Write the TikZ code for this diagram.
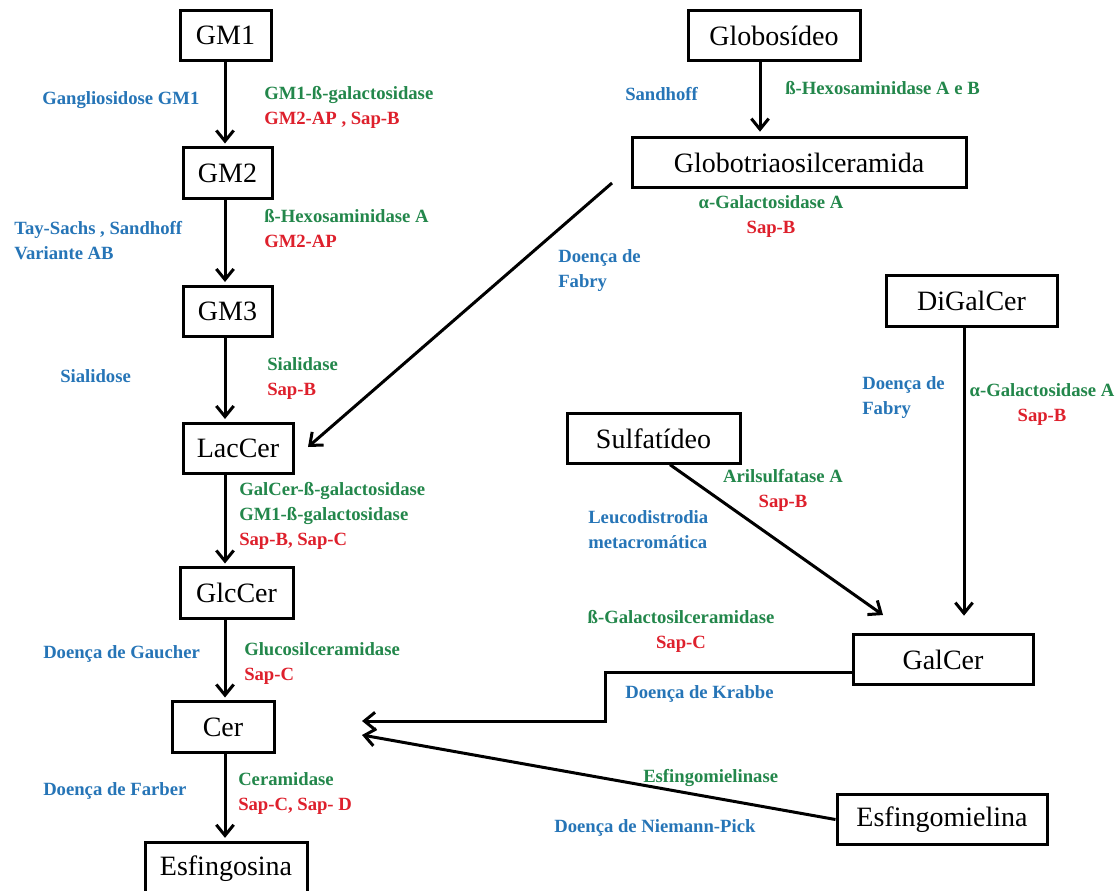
\documentclass[tikz,border=0pt]{standalone}
\usepackage{fontspec}
\setmainfont{Liberation Serif}
\usetikzlibrary{arrows.meta,calc}
\definecolor{dblue}{RGB}{38,117,183}
\definecolor{dgreen}{RGB}{35,135,75}
\definecolor{dred}{RGB}{222,32,44}
\begin{document}
\begin{tikzpicture}[x=0.75pt,y=-0.75pt,
 box/.style={draw, line width=2.25pt, inner sep=0pt, minimum height=38pt, font=\fontsize{21}{25}\selectfont},
 arr/.style={line width=2.25pt, -{Straight Barb[length=8pt,width=13pt]}},
 lab/.style={inner sep=0pt, font=\fontsize{14}{18.75}\selectfont\bfseries},
 lw/.style={lab, anchor=north west, align=left},
 lc/.style={lab, anchor=north, align=center},
]
\clip (0,0) rectangle (1119,890);
\fill[white] (0,0) rectangle (1119,890);

% left column boxes
\node[box, minimum width=68.25pt] (GM1) at (225.5,35.5) {GM1};
\node[box, minimum width=66.75pt] (GM2) at (227.5,173) {GM2};
\node[box, minimum width=66.75pt] (GM3) at (227.5,311.5) {GM3};
\node[box, minimum width=82.5pt] (LacCer) at (238,448.5) {LacCer};
\node[box, minimum width=84.75pt] (GlcCer) at (236.5,593) {GlcCer};
\node[box, minimum width=76.5pt] (Cer) at (223,727) {Cer};
\node[box, minimum width=121.5pt, minimum height=39.75pt] (Esfingosina) at (226,868.5) {Esfingosina};

% right boxes
\node[box, minimum width=129pt] (Globosideo) at (774,35.5) {Globosídeo};
\node[box, minimum width=250.5pt] (Globotri) at (799,162.5) {Globotriaosilceramida};
\node[box, minimum width=128.25pt] (DiGalCer) at (971.5,301) {DiGalCer};
\node[box, minimum width=129.75pt, minimum height=37pt] (Sulfatideo) at (653.5,438.5) {Sulfatídeo};
\node[box, minimum width=135pt] (GalCer) at (943,659.5) {GalCer};
\node[box, minimum width=157.5pt] (Esfingomielina) at (942,819.5) {Esfingomielina};

% helper coordinates
\coordinate (colx) at (225,0);
\coordinate (glx) at (760,0);
\coordinate (digx) at (964,0);
\coordinate (sulx) at (670,0);
\coordinate (fabS) at (612,183);
\coordinate (fabT) at (308,447);
\coordinate (sulT) at (883,615);
\coordinate (kr1) at (605,672);
\coordinate (cerT1) at (362,721);
\coordinate (cerT2) at (362,735);

% connectors
\draw[arr, shorten >=2pt] (GM1.south -| colx) -- (GM2.north -| colx);
\draw[arr, shorten >=2pt] (GM2.south -| colx) -- (GM3.north -| colx);
\draw[arr, shorten >=2pt] (GM3.south -| colx) -- (LacCer.north -| colx);
\draw[arr, shorten >=2pt] (LacCer.south -| colx) -- (GlcCer.north -| colx);
\draw[arr, shorten >=2pt] (GlcCer.south -| colx) -- (Cer.north -| colx);
\draw[arr, shorten >=2pt] (Cer.south -| colx) -- (Esfingosina.north -| colx);
\draw[arr, shorten >=3pt] (Globosideo.south -| glx) -- (Globotri.north -| glx);
\draw[arr] (fabS) -- (fabT);
\draw[arr, shorten >=12.75pt] (DiGalCer.south -| digx) -- (GalCer.north -| digx);
\draw[arr] (Sulfatideo.south -| sulx) -- (sulT);
\draw[arr] (GalCer.west |- kr1) -- (kr1) |- (cerT1);
\draw[arr] (Esfingomielina.west) -- (cerT2);

% left labels
\node[lw, text=dblue] (d1) at (42,91) {Gangliosidose GM1};
\node[lw] (e1) at (264,86) {\textcolor{dgreen}{GM1-ß-galactosidase}\\\textcolor{dred}{GM2-AP , Sap-B}};
\node[lw, text=dblue] (d2) at (14,221) {Tay-Sachs , Sandhoff\\Variante AB};
\node[lw] (e2) at (264,209) {\textcolor{dgreen}{ß-Hexosaminidase A}\\\textcolor{dred}{GM2-AP}};
\node[lw, text=dblue] (d3) at (60,369) {Sialidose};
\node[lw] (e3) at (267,357) {\textcolor{dgreen}{Sialidase}\\\textcolor{dred}{Sap-B}};
\node[lw] (e4) at (239,482) {\textcolor{dgreen}{GalCer-ß-galactosidase}\\\textcolor{dgreen}{GM1-ß-galactosidase}\\\textcolor{dred}{Sap-B, Sap-C}};
\node[lw, text=dblue] (d5) at (43,645) {Doença de Gaucher};
\node[lw] (e5) at (244,642) {\textcolor{dgreen}{Glucosilceramidase}\\\textcolor{dred}{Sap-C}};
\node[lw, text=dblue] (d6) at (43,782) {Doença de Farber};
\node[lw] (e6) at (238,772) {\textcolor{dgreen}{Ceramidase}\\\textcolor{dred}{Sap-C, Sap- D}};

% right labels
\node[lw, text=dblue] (d7) at (625,87) {Sandhoff};
\node[lw, text=dgreen] (e7) at (785,81) {ß-Hexosaminidase A e B};
\node[lc] (e8) at (771,195) {\textcolor{dgreen}{α-Galactosidase A}\\\textcolor{dred}{Sap-B}};
\node[lw, text=dblue] (d8) at (558,249) {Doença de\\Fabry};
\node[lw, text=dblue] (d9) at (862,376) {Doença de\\Fabry};
\node[lc] (e9) at (1042,383) {\textcolor{dgreen}{α-Galactosidase A}\\\textcolor{dred}{Sap-B}};
\node[lc] (e10) at (783,469) {\textcolor{dgreen}{Arilsulfatase A}\\\textcolor{dred}{Sap-B}};
\node[lw, text=dblue] (d10) at (588,510) {Leucodistrodia\\metacromática};
\node[lc] (e11) at (681,610) {\textcolor{dgreen}{ß-Galactosilceramidase}\\\textcolor{dred}{Sap-C}};
\node[lw, text=dblue] (d11) at (625,685) {Doença de Krabbe};
\node[lw, text=dgreen] (e12) at (643,769) {Esfingomielinase};
\node[lw, text=dblue] (d12) at (554,819) {Doença de Niemann-Pick};
\end{tikzpicture}
\end{document}
